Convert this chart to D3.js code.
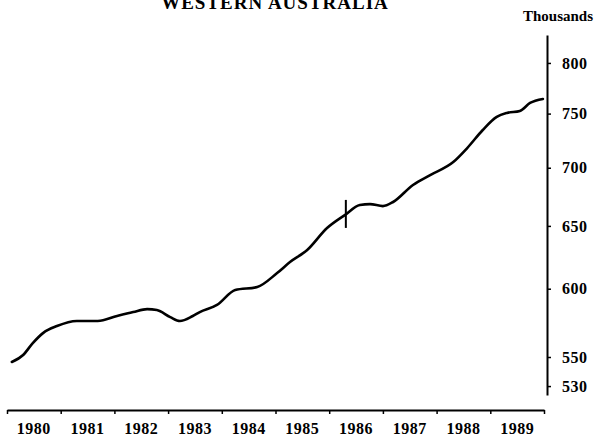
<!DOCTYPE html>
<html lang="en">
<head>
<meta charset="utf-8">
<title>Western Australia</title>
<script type="text/javascript" src="https://d3js.org/d3.v7.min.js"></script>
<style>
  body { margin: 0; background: #fff; }
  svg { display: block; }
  .lbl { font-family: "Liberation Serif", "DejaVu Serif", serif; font-weight: bold; fill: #000; }
</style>
</head>
<body>
<div id="container"></div>
<script type="text/javascript">
// data (decimal year, thousands)
var years = [1980.09, 1980.30, 1980.48, 1980.67, 1980.93, 1981.30, 1981.69, 1982.05, 1982.35, 1982.61,
             1982.79, 1983.04, 1983.22, 1983.46, 1983.59, 1983.91, 1984.25, 1984.66, 1985.03, 1985.27,
             1985.59, 1985.96, 1986.29, 1986.57, 1986.76, 1987.00, 1987.19, 1987.56, 1987.88, 1988.31,
             1988.57, 1988.86, 1989.12, 1989.31, 1989.55, 1989.74, 1989.98];
var values = [546.5, 551.4, 559.8, 567.0, 572.1, 575.8, 575.8, 579.5, 582.4, 584.6,
              583.9, 578.7, 575.8, 579.5, 582.4, 587.7, 599.0, 601.3, 612.1, 620.7,
              630.3, 648.2, 659.0, 667.5, 668.3, 666.6, 670.1, 684.8, 693.5, 705.1,
              717.8, 734.5, 746.8, 750.6, 752.5, 760.2, 764.1];
var yearLabels = [1980, 1981, 1982, 1983, 1984, 1985, 1986, 1987, 1988, 1989];
var yTicks = [530, 550, 600, 650, 700, 750, 800];
var markerYear = 1986.31, markerValue = 660;

var w = 604, h = 443;
var svg = d3.select("#container").append("svg")
    .attr("width", w).attr("height", h);

var x = d3.scaleLinear().domain([1980, 1990]).range([7, 544]);
var y = d3.scaleLog().domain([524, 829]).range([395, 35]);

// title (cut off at the top, as in the original)
svg.append("text").attr("class", "lbl")
    .attr("x", 275).attr("y", 9)
    .attr("text-anchor", "middle")
    .style("font-size", "19px").style("letter-spacing", "1px")
    .text("WESTERN AUSTRALIA");

svg.append("text").attr("class", "lbl")
    .attr("x", 558).attr("y", 21)
    .attr("text-anchor", "middle")
    .style("font-size", "15px")
    .text("Thousands");

// y axis on the right
var yAxis = svg.append("g")
    .attr("transform", "translate(547,0)")
    .call(d3.axisRight(y).tickValues(yTicks).tickSize(4).tickSizeOuter(0)
        .tickPadding(11).tickFormat(d3.format("d")));
yAxis.select(".domain").attr("stroke-width", 2);
yAxis.selectAll(".tick line").attr("stroke-width", 1.5);
yAxis.selectAll(".tick text").attr("class", "lbl")
    .style("font-size", "16px").style("letter-spacing", "0.5px");

// x axis at the bottom
var xAxis = svg.append("g")
    .attr("transform", "translate(0,410)")
    .call(d3.axisBottom(x).tickValues(d3.range(1980, 1991)).tickSize(4).tickSizeOuter(0)
        .tickFormat(""));
xAxis.select(".domain").attr("stroke-width", 2);
xAxis.selectAll(".tick line").attr("stroke-width", 1.5);

svg.selectAll("text.year")
    .data(yearLabels)
    .enter()
    .append("text")
    .attr("class", "lbl year")
    .attr("x", d => x(d + 0.5))
    .attr("y", 434)
    .attr("text-anchor", "middle")
    .style("font-size", "16px").style("letter-spacing", "0.5px")
    .text(d => d);

// series line
var pts = years.map((t, i) => [t, values[i]]);
var line = d3.line()
    .x(d => x(d[0]))
    .y(d => y(d[1]))
    .curve(d3.curveMonotoneX);
svg.append("path")
    .datum(pts)
    .attr("d", line)
    .attr("fill", "none")
    .attr("stroke", "#000")
    .attr("stroke-width", 2.6)
    .attr("stroke-linejoin", "round")
    .attr("stroke-linecap", "round");

// vertical marker on the line
svg.append("line")
    .attr("x1", x(markerYear)).attr("x2", x(markerYear))
    .attr("y1", y(markerValue) - 14).attr("y2", y(markerValue) + 14)
    .attr("stroke", "#000").attr("stroke-width", 2);
</script>
</body>
</html>
